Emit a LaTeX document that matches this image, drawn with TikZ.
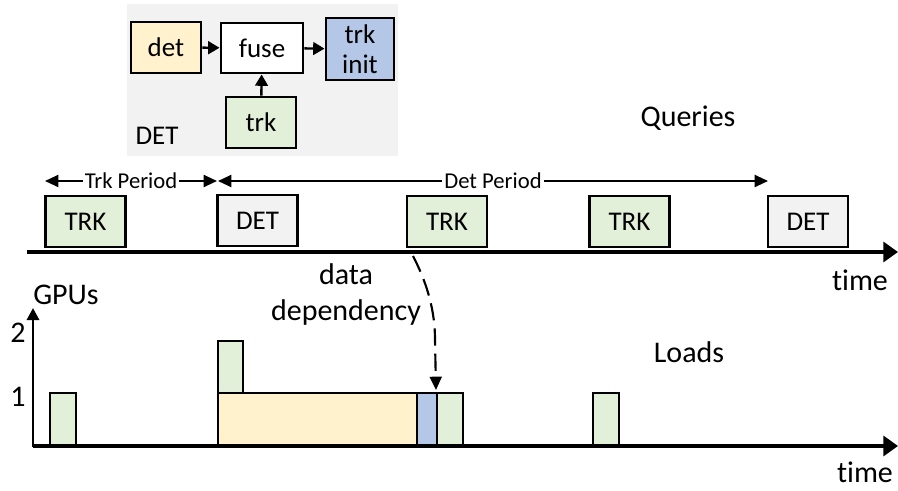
\documentclass[tikz,border=0pt]{standalone}
\usepackage{fontspec}
\setmainfont{Carlito}[Ligatures=NoCommon]
\usetikzlibrary{arrows.meta,fit}
\definecolor{trkgreen}{HTML}{E2F0D9}
\definecolor{detyellow}{HTML}{FFF2CC}
\definecolor{initblue}{HTML}{B4C7E7}
\definecolor{panelgray}{HTML}{F2F2F2}
\begin{document}
\begin{tikzpicture}[x=0.75pt,y=-0.75pt,
  box/.style={draw=black, line width=2.2pt, inner sep=0pt, align=center,
    font=\fontsize{20.25}{22.5}\selectfont},
  qbox/.style={box, minimum width=60pt, minimum height=38.25pt},
  bar/.style={draw=black, line width=2.2pt, inner sep=0pt},
  lbl/.style={inner sep=0pt, align=center, font=\fontsize{22.5}{27}\selectfont},
  plbl/.style={fill=white, inner xsep=1.5pt, inner ysep=0pt, font=\fontsize{17}{20}\selectfont},
  flow/.style={line width=1.8pt, -{Triangle[length=8.5pt,width=9.5pt]}},
  period/.style={line width=1.5pt, {Triangle[length=10pt,width=9pt]}-{Triangle[length=10pt,width=9pt]}},
  axis/.style={line width=2.5pt, -{Triangle[length=11pt,width=15pt]}},
  yaxis/.style={line width=2.2pt, -{Triangle[length=9pt,width=9pt]}},
  dep/.style={line width=1.6pt, dash pattern=on 13pt off 6pt, -{Triangle[length=10pt,width=9pt]}}]
\useasboundingbox (0,0) rectangle (898,491);

% ---- DET stage detail panel ----
\node[fill=panelgray, inner sep=0pt, fit={(127,4) (398,156)}] (panel) {};
\node[box, fill=detyellow, minimum width=52.5pt, minimum height=38.25pt] (det) at (166,47.5) {det};
\node[box, fill=white, minimum width=61.5pt, minimum height=37.5pt] (fuse) at (262,48) {fuse};
\node[box, fill=initblue, minimum width=51pt, minimum height=46.5pt] (init) at (360,49) {trk\\init};
\node[box, fill=trkgreen, minimum width=52.5pt, minimum height=38.25pt] (trk) at (261,122.5) {trk};
\node[lbl, font=\fontsize{20.25}{24}\selectfont] (panellbl) at (157,136) {DET};
\draw[flow] (det) -- (fuse);
\draw[flow] (fuse) -- (init);
\draw[flow] (trk) -- (fuse);

% ---- query timeline ----
\node[lbl] (queries) at (688,118) {Queries};
\coordinate (trkstart) at (45,181);
\coordinate (trkend) at (217,181);
\coordinate (detstart) at (218,181);
\coordinate (detend) at (768,181);
\draw[period] (trkstart) -- node[plbl] (trklbl) {Trk Period} (trkend);
\draw[period] (detstart) -- node[plbl] (detlbl) {Det Period} (detend);

\node[qbox, fill=trkgreen] (q1) at (85.5,221.5) {TRK};
\node[qbox, fill=panelgray] (q2) at (257.5,220.5) {DET};
\node[qbox, fill=trkgreen] (q3) at (447,221.5) {TRK};
\node[qbox, fill=trkgreen] (q4) at (629.5,221.5) {TRK};
\node[qbox, fill=panelgray] (q5) at (808,221.5) {DET};

\coordinate (qaxis0) at (27,252);
\coordinate (qaxis1) at (898,252);
\draw[axis] (qaxis0) -- (qaxis1);
\node[lbl] (time1) at (860,280) {time};

% ---- GPU load timeline ----
\node[bar, fill=trkgreen, fit={(50,393) (76,446)}] (l1) {};
\node[bar, fill=detyellow, fit={(218,393) (417,446)}] (l2) {};
\node[bar, fill=trkgreen, fit={(218,341) (243,393)}] (l3) {};
\node[bar, fill=initblue, fit={(417,393) (437,446)}] (l4) {};
\node[bar, fill=trkgreen, fit={(437,393) (463,446)}] (l5) {};
\node[bar, fill=trkgreen, fit={(593,393) (619,446)}] (l6) {};

\coordinate (origin) at (33,446);
\coordinate (ytop) at (33,308);
\coordinate (laxis1) at (898,446);
\draw[yaxis] ([yshift=-1pt]origin) -- (ytop);
\draw[axis] (origin) -- (laxis1);
\node[lbl] (gpus) at (66,295) {GPUs};
\node[lbl] (ytwo) at (18,333) {2};
\node[lbl] (yone) at (18,397) {1};
\node[lbl] (loads) at (689,352) {Loads};
\node[lbl] (time2) at (865,472) {time};

% ---- data dependency ----
\node[lbl] (deplbl) at (346,295) {data\\dependency};
\coordinate (depsrc) at (413,256);
\coordinate (depdst) at (436,390);
\draw[dep] (depsrc) .. controls (428,285) and (435,312) .. (435,340) -- (depdst);
\end{tikzpicture}
\end{document}
